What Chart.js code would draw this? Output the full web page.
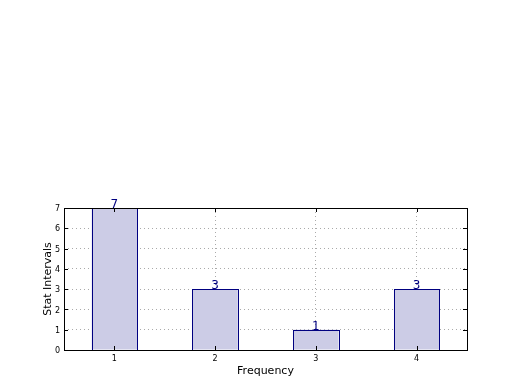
<!DOCTYPE html>
<html>
<head>
<meta charset="utf-8">
<script src="https://cdn.jsdelivr.net/npm/chart.js@4/dist/chart.umd.min.js"></script>
<style>
html,body{margin:0;padding:0;background:#fff;}
#wrap{width:520px;height:390px;position:relative;}
</style>
</head>
<body>
<div id="wrap"><canvas id="c" width="520" height="390"></canvas></div>
<script>
const categories = ['1', '2', '3', '4'];
const counts = [7, 3, 1, 3];
const yTicks = [0, 1, 2, 3, 4, 5, 6, 7];

const FONT = "'DejaVu Sans', sans-serif";

const barEdges = {
  id: 'barEdges',
  afterDatasetsDraw(chart) {
    const ctx = chart.ctx;
    const meta = chart.getDatasetMeta(0);
    ctx.save();
    ctx.strokeStyle = '#000080';
    ctx.lineWidth = 1;
    meta.data.forEach(bar => {
      const l = Math.round(bar.x - bar.width / 2) + 0.5;
      const r = Math.round(bar.x + bar.width / 2) + 0.5;
      const t = Math.round(bar.y) + 0.5;
      const b = Math.round(bar.base) + 0.5;
      ctx.strokeRect(l, t, r - l, b - t);
    });
    ctx.restore();
  }
};

const frameAndLabels = {
  id: 'frameAndLabels',
  afterDraw(chart) {
    const ctx = chart.ctx;
    const a = chart.chartArea;
    ctx.save();
    ctx.strokeStyle = '#000';
    ctx.lineWidth = 1;
    ctx.strokeRect(Math.round(a.left) + 0.5, Math.round(a.top) + 0.5,
                   Math.round(a.right - a.left), Math.round(a.bottom - a.top));
    const ys = chart.scales.y, xs = chart.scales.x;
    ctx.beginPath();
    yTicks.forEach(v => {
      const py = Math.round(ys.getPixelForValue(v)) + 0.5;
      ctx.moveTo(a.left, py); ctx.lineTo(a.left + 4, py);
      ctx.moveTo(a.right, py); ctx.lineTo(a.right - 4, py);
    });
    categories.forEach((c, i) => {
      const px = Math.round(xs.getPixelForValue(i)) + 0.5;
      ctx.moveTo(px, a.bottom); ctx.lineTo(px, a.bottom - 4);
      ctx.moveTo(px, a.top); ctx.lineTo(px, a.top + 4);
    });
    ctx.stroke();
    const meta = chart.getDatasetMeta(0);
    ctx.fillStyle = '#000080';
    ctx.font = '12px ' + FONT;
    ctx.textAlign = 'center';
    ctx.textBaseline = 'bottom';
    meta.data.forEach((bar, i) => {
      ctx.fillText(String(counts[i]), bar.x, bar.y + 3);
    });
    ctx.restore();
  }
};

new Chart(document.getElementById('c'), {
  type: 'bar',
  data: {
    labels: categories,
    datasets: [{
      data: counts,
      backgroundColor: 'rgb(204,204,230)',
      borderWidth: 0,
      barPercentage: 0.45,
      categoryPercentage: 1.0
    }]
  },
  options: {
    responsive: false,
    animation: false,
    devicePixelRatio: 1,
    layout: { padding: { left: 0, right: 53, top: 208, bottom: 0 } },
    plugins: { legend: { display: false }, tooltip: { enabled: false } },
    scales: {
      x: {
        z: 1,
        afterFit(s) { s.height = 40; },
        grid: { offset: false, drawTicks: false, color: '#aaaaaa', lineWidth: 1 },
        border: { display: false, dash: [1, 3] },
        ticks: { font: { family: FONT, size: 8 }, color: '#000', padding: 4, maxRotation: 0 },
        title: { display: true, text: 'Frequency', font: { family: FONT, size: 11 }, color: '#000', padding: { top: 0, bottom: 12 } }
      },
      y: {
        z: 1,
        min: 0, max: 7,
        afterFit(s) { s.width = 64; },
        afterBuildTicks(s) { s.ticks = yTicks.map(v => ({ value: v })); },
        grid: { drawTicks: false, color: '#aaaaaa', lineWidth: 1 },
        border: { display: false, dash: [1, 3] },
        ticks: { font: { family: FONT, size: 8 }, color: '#000', padding: 4, labelOffset: 1 },
        title: { display: true, text: 'Stat Intervals', font: { family: FONT, size: 11 }, color: '#000', padding: { top: 42, bottom: 0 } }
      }
    }
  },
  plugins: [barEdges, frameAndLabels]
});
</script>
</body>
</html>
